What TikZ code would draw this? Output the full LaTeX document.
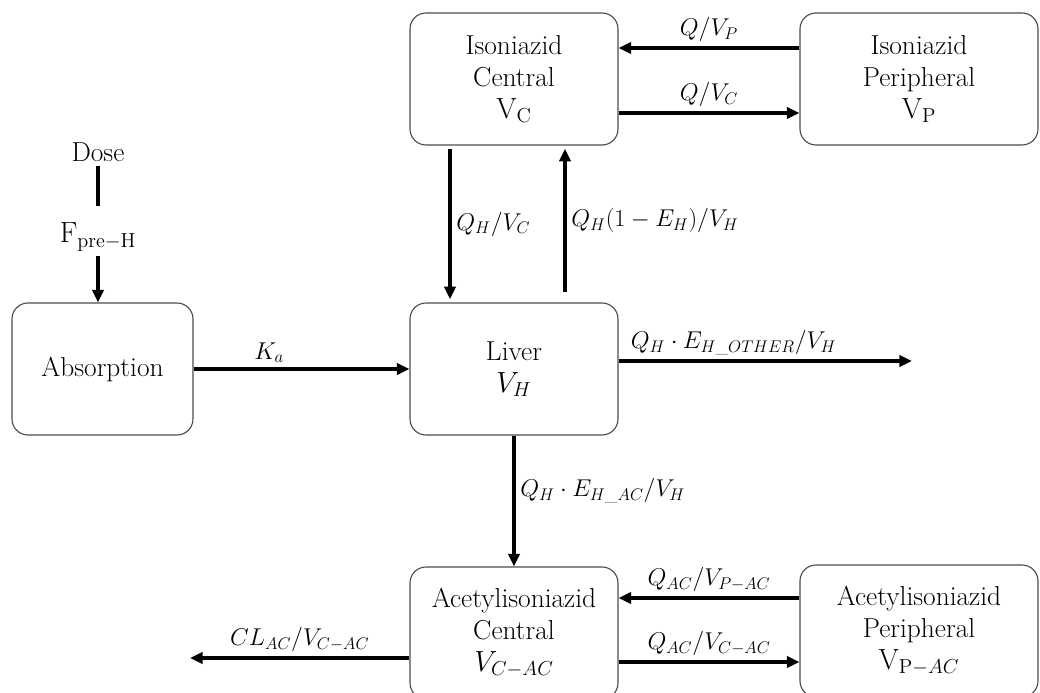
\documentclass[tikz,border=0pt]{standalone}
\usepackage{amsmath,amssymb}
\usepackage{tikz}
\usetikzlibrary{arrows.meta, positioning}

\begin{document}
\begin{tikzpicture}[
  box/.style={draw=black!70, line width=0.8pt, rounded corners=0.4cm,
    minimum height=3.3cm, align=center,
    font=\fontsize{19.5}{22.7}\selectfont},
  flow/.style={line width=2.3pt, -{Triangle[length=9pt,width=8pt]}},
  lbl/.style={font=\fontsize{17.5}{21}\selectfont},
  txt/.style={font=\fontsize{19.5}{21}\selectfont}
]
\useasboundingbox (0,0) rectangle (26,17.325);
% Isoniazid central and peripheral
\node[box, minimum width=5.2cm] (isoC) at (12.85,15.35) {Isoniazid\\Central\\$\mathrm{V_C}$};
\node[box, minimum width=5.95cm] (isoP) at (22.975,15.35) {Isoniazid\\Peripheral\\$\mathrm{V_P}$};
% Absorption and liver
\node[box, minimum width=4.525cm] (absorb) at (2.5625,8.1) {Absorption};
\node[box, minimum width=5.2cm] (liver) at (12.85,8.1) {Liver\\$V_H$};
% Acetylisoniazid central and peripheral
\node[box, minimum width=5.2cm] (acC) at (12.85,1.5) {Acetylisoniazid\\Central\\$V_{C-AC}$};
\node[box, minimum width=5.95cm] (acP) at (22.975,1.55) {Acetylisoniazid\\Peripheral\\$\mathrm{V}_{\mathrm{P}-AC}$};
% Dose input
\node[txt] (dose) at (2.45,13.525) {Dose};
\node[txt] (fpre) at (2.45,11.4) {$\mathrm{F_{pre-H}}$};
\draw[line width=2.3pt, shorten >=0.3cm] (dose) -- (fpre);
\draw[flow] (fpre) -- (fpre |- absorb.north);
% Absorption to liver
\draw[flow] (absorb) -- (liver) node[lbl, above, pos=0.35]{$K_a$};
% Central <-> peripheral exchange
\draw[flow] ([yshift=0.775cm]isoP.west) -- ([yshift=0.775cm]isoC.east)
  node[lbl, above, midway]{$Q/V_P$};
\draw[flow] ([yshift=-0.85cm]isoC.east) -- ([yshift=-0.85cm]isoP.west)
  node[lbl, above, midway]{$Q/V_C$};
% Central <-> liver
\draw[flow] ([xshift=-1.6cm,yshift=-0.08cm]isoC.south) -- ([xshift=-1.6cm,yshift=0.08cm]liver.north)
  node[lbl, right, midway]{$Q_H/V_C$};
\draw[flow] ([xshift=1.275cm,yshift=0.25cm]liver.north) -- ([xshift=1.275cm,yshift=-0.08cm]isoC.south)
  node[lbl, right, midway]{$Q_H(1-E_H)/V_H$};
% Hepatic elimination
\coordinate (hepout) at (22.8,8.3);
\draw[flow] ([yshift=0.2cm]liver.east) -- (hepout)
  node[lbl, above right, pos=0, xshift=0.15cm]{$Q_H\cdot E_{H\_OTHER}/V_H$};
% Liver to acetylisoniazid
\draw[flow] (liver) -- (acC) node[lbl, right, pos=0.42]{$Q_H\cdot E_{H\_AC}/V_H$};
% Acetylisoniazid exchange
\draw[flow] ([yshift=0.875cm]acP.west |- acC) -- ([yshift=0.875cm]acC.east)
  node[lbl, above, midway]{$Q_{AC}/V_{P-AC}$};
\draw[flow] ([yshift=-0.725cm]acC.east) -- ([yshift=-0.725cm]acP.west |- acC)
  node[lbl, above, midway]{$Q_{AC}/V_{C-AC}$};
% Acetylisoniazid clearance
\coordinate (acout) at (4.75,0.875);
\draw[flow] ([yshift=-0.625cm]acC.west) -- (acout)
  node[lbl, above, midway]{$CL_{AC}/V_{C-AC}$};
\end{tikzpicture}
\end{document}
